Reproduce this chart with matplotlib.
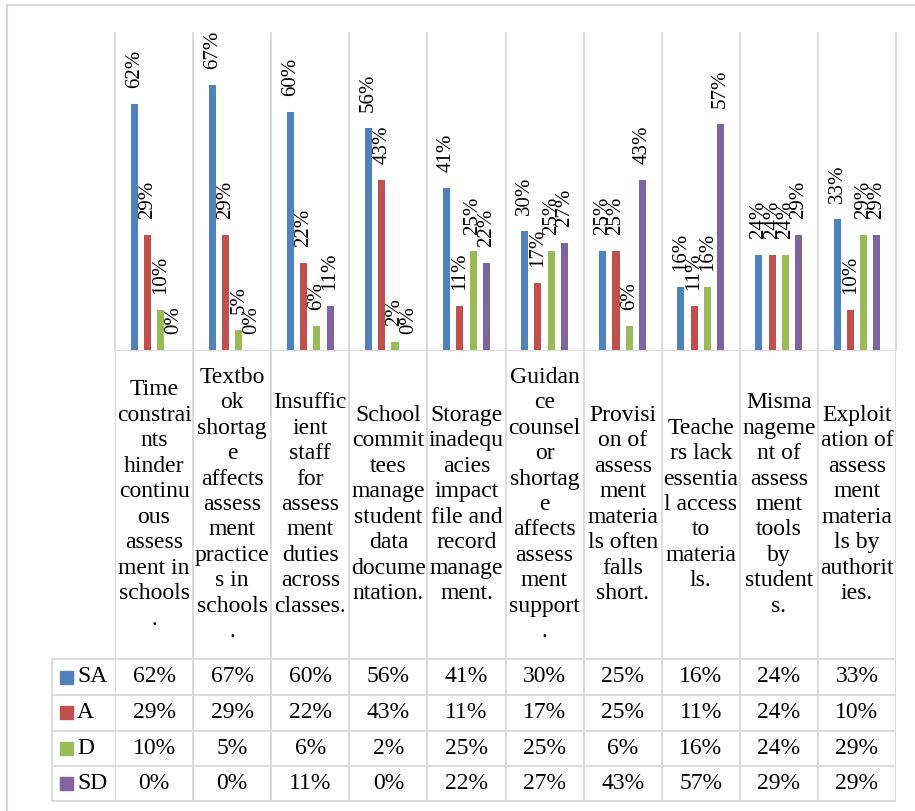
import numpy as np
import matplotlib.pyplot as plt
from matplotlib.patches import Rectangle

plt.rcParams['font.family'] = ['Liberation Serif', 'DejaVu Serif']

# Данные
categories = [
    "Time\nconstrai\nnts\nhinder\ncontinu\nous\nassess\nment in\nschools\n.",
    "Textbo\nok\nshortag\ne\naffects\nassess\nment\npractice\ns in\nschools\n.",
    "Insuffic\nient\nstaff\nfor\nassess\nment\nduties\nacross\nclasses.",
    "School\ncommit\ntees\nmanage\nstudent\ndata\ndocume\nntation.",
    "Storage\ninadequ\nacies\nimpact\nfile and\nrecord\nmanage\nment.",
    "Guidan\nce\ncounsel\nor\nshortag\ne\naffects\nassess\nment\nsupport\n.",
    "Provisi\non of\nassess\nment\nmateria\nls often\nfalls\nshort.",
    "Teache\nrs lack\nessentia\nl access\nto\nmateria\nls.",
    "Misma\nnageme\nnt of\nassess\nment\ntools\nby\nstudent\ns.",
    "Exploit\nation of\nassess\nment\nmateria\nls by\nauthorit\nies.",
]
series_names = ["SA", "A", "D", "SD"]
sa = [0.62, 0.67, 0.60, 0.56, 0.41, 0.30, 0.25, 0.16, 0.24, 0.33]
a = [0.29, 0.29, 0.22, 0.43, 0.11, 0.17, 0.25, 0.11, 0.24, 0.10]
d = [0.10, 0.05, 0.06, 0.02, 0.25, 0.25, 0.06, 0.16, 0.24, 0.29]
sd = [0.00, 0.00, 0.11, 0.00, 0.22, 0.27, 0.43, 0.57, 0.29, 0.29]
colors = ['#4F81BD', '#C0504D', '#9BBB59', '#8064A2']

W, H = 915, 811
grid_c = '#D9D9D9'
fs = 17

fig = plt.figure(figsize=(W / 100, H / 100), dpi=100)

# рамка вокруг диаграммы
fig.patches.append(Rectangle((7 / W, -0.1), 1.2, 1 - 5 / H + 0.1, transform=fig.transFigure,
                             fill=False, ec=grid_c, lw=1.5))

# Столбцы
left, right, top, base, bottom = 115, 896, 33, 350, 801
ax = fig.add_axes([left / W, 1 - base / H, (right - left) / W, (base - top) / H])
ax.set_xlim(-0.5, 9.5)
ax.set_ylim(0, 0.8)
ax.axis('off')

x = np.arange(len(categories))
step = 0.17
for k, vals in enumerate([sa, a, d, sd]):
    pos = x + (k - 1.5) * step
    ax.bar(pos, vals, width=0.09, color=colors[k])
    for px_, v in zip(pos, vals):
        ax.annotate(f"{v:.0%}", (px_, v), xytext=(0, 11.5), textcoords='offset points',
                    rotation=90, ha='center', va='bottom', fontsize=15)

for xv in np.arange(-0.5, 10, 1):
    ax.axvline(xv, color=grid_c, lw=1.3, clip_on=False)

# Таблица данных
tab = fig.add_axes([left / W, 1 - bottom / H, (right - left) / W, (bottom - base) / H])
tab.set_xlim(-0.5, 9.5)
tab.set_ylim(bottom, base)
tab.axis('off')

leg_x = -0.5 - (left - 52) / ((right - left) / 10)
rows = [659, 695, 730.5, 766, 801]
tab.hlines(base, -0.5, 9.5, color=grid_c, lw=1.3)
tab.hlines(rows, leg_x, 9.5, color=grid_c, lw=1.3, clip_on=False)
tab.vlines(np.arange(-0.5, 10, 1), base, bottom, color=grid_c, lw=1.3)
tab.vlines(leg_x, rows[0], rows[-1], color=grid_c, lw=1.3, clip_on=False)

for i, lab in enumerate(categories):
    tab.text(i, (base + rows[0]) / 2, lab, ha='center', va='center', fontsize=fs,
             multialignment='center', linespacing=1.28)

unit = (right - left) / 10
for k, vals in enumerate([sa, a, d, sd]):
    yc = (rows[k] + rows[k + 1]) / 2
    tab.add_patch(Rectangle((leg_x + 8 / unit, yc - 6.5), 13 / unit, 13, color=colors[k],
                            clip_on=False))
    tab.text(leg_x + 25 / unit, yc, series_names[k], ha='left', va='center', fontsize=fs,
             clip_on=False)
    for i, v in enumerate(vals):
        tab.text(i, yc, f"{v:.0%}", ha='center', va='center', fontsize=fs)

plt.savefig('out.png', dpi=100)
